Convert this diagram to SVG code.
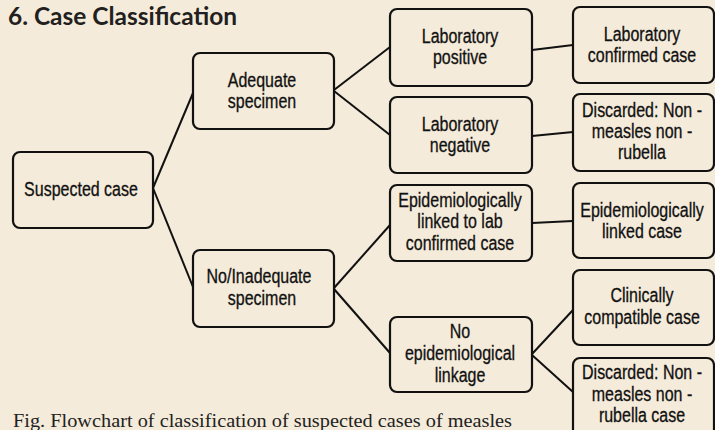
<svg xmlns="http://www.w3.org/2000/svg" width="715" height="430" viewBox="0 0 715 430">
<style>
.box{fill:#F4EBDA;stroke:#111;stroke-width:2.2}
.t{font-family:"Liberation Sans",Arial,sans-serif;font-size:19.5px;fill:#111;stroke:#111;stroke-width:0.3;text-anchor:middle;transform-box:fill-box;transform-origin:center;transform:scaleX(0.82)}
.c{stroke:#111;stroke-width:2;fill:none}
</style>
<rect width="715" height="430" fill="#F4EBDA"/>
<text x="8" y="25" font-family="Lato,'Open Sans',sans-serif" font-weight="bold" font-size="24" fill="#231f20" textLength="229" lengthAdjust="spacingAndGlyphs">6. Case Classification</text>
<g id="connectors">
<line class="c" x1="153" y1="188" x2="193" y2="93"/>
<line class="c" x1="153" y1="188" x2="193" y2="287"/>
<line class="c" x1="334" y1="90" x2="390" y2="47"/>
<line class="c" x1="334" y1="91" x2="390" y2="135"/>
<line class="c" x1="532" y1="50" x2="573" y2="45"/>
<line class="c" x1="532" y1="136" x2="573" y2="132"/>
<line class="c" x1="334" y1="288" x2="390" y2="225"/>
<line class="c" x1="334" y1="289" x2="390" y2="353"/>
<line class="c" x1="532" y1="223" x2="573" y2="221"/>
<line class="c" x1="532" y1="354" x2="573" y2="310"/>
<line class="c" x1="532" y1="355" x2="573" y2="392"/>
</g>
<g id="suspected"><rect class="box" x="13" y="152" width="140" height="76" rx="7"/><text class="t" x="81" y="196">Suspected case</text></g>
<g id="adequate"><rect class="box" x="193" y="53" width="141" height="76" rx="7"/><text class="t" x="262" y="87">Adequate</text><text class="t" x="262" y="108">specimen</text></g>
<g id="inadequate"><rect class="box" x="193" y="250" width="141" height="77" rx="7"/><text class="t" x="259" y="283">No/Inadequate</text><text class="t" x="262" y="305">specimen</text></g>
<g id="labpos"><rect class="box" x="390" y="9" width="142" height="77" rx="7"/><text class="t" x="460" y="43">Laboratory</text><text class="t" x="460" y="64">positive</text></g>
<g id="labneg"><rect class="box" x="390" y="97" width="142" height="76" rx="7"/><text class="t" x="460" y="131">Laboratory</text><text class="t" x="460" y="152">negative</text></g>
<g id="epilinked"><rect class="box" x="390" y="185" width="142" height="76" rx="7"/><text class="t" x="460" y="207">Epidemiologically</text><text class="t" x="460" y="228">linked to lab</text><text class="t" x="460" y="250">confirmed case</text></g>
<g id="noepi"><rect class="box" x="390" y="317" width="142" height="75" rx="7"/><text class="t" x="460" y="338">No</text><text class="t" x="460" y="360">epidemiological</text><text class="t" x="460" y="382">linkage</text></g>
<g id="labconf"><rect class="box" x="573" y="7" width="141" height="76" rx="7"/><text class="t" x="642" y="41">Laboratory</text><text class="t" x="642" y="62">confirmed case</text></g>
<g id="discarded1"><rect class="box" x="573" y="94" width="141" height="77" rx="7"/><text class="t" x="642" y="117">Discarded: Non -</text><text class="t" x="642" y="138">measles non -</text><text class="t" x="642" y="159">rubella</text></g>
<g id="epicase"><rect class="box" x="573" y="183" width="141" height="75" rx="7"/><text class="t" x="642" y="217">Epidemiologically</text><text class="t" x="642" y="238">linked case</text></g>
<g id="clinical"><rect class="box" x="573" y="270" width="141" height="75" rx="7"/><text class="t" x="642" y="302">Clinically</text><text class="t" x="642" y="324">compatible case</text></g>
<g id="discarded2"><rect class="box" x="573" y="358" width="141" height="80" rx="7"/><text class="t" x="642" y="379">Discarded: Non -</text><text class="t" x="642" y="401">measles non -</text><text class="t" x="642" y="422">rubella case</text></g>
<text x="13" y="427" font-family="'Liberation Serif',serif" font-size="19.5" fill="#222" textLength="499" lengthAdjust="spacingAndGlyphs">Fig. Flowchart of classification of suspected cases of measles</text>
</svg>
